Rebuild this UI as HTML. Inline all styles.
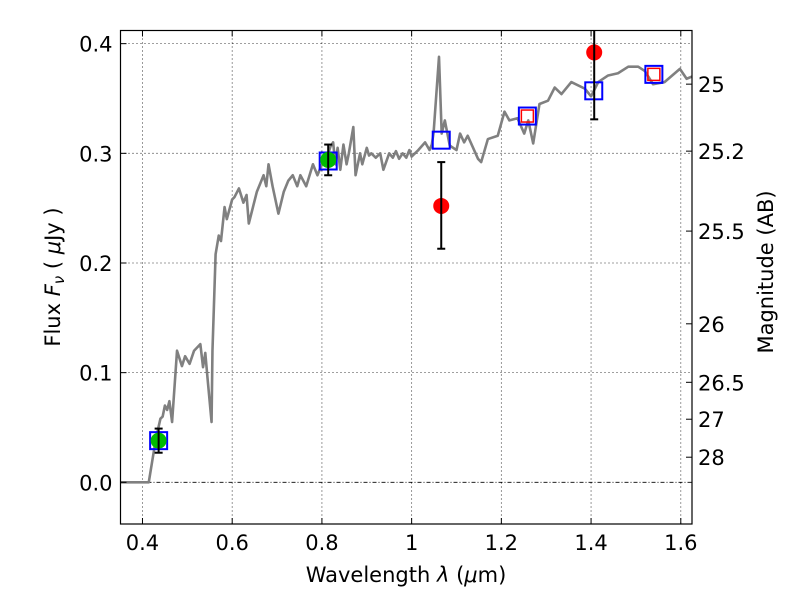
<!DOCTYPE html>
<html><head><meta charset="utf-8"><style>
html,body{margin:0;padding:0;background:#fff;}
svg{display:block;font-family:"DejaVu Sans","Liberation Sans",sans-serif;}
</style></head><body>
<svg id="chart" width="800" height="600" viewBox="0 0 800 600" xmlns="http://www.w3.org/2000/svg">
<rect width="800" height="600" fill="#fff"/>
<g id="grid"></g>
<g id="spec"></g>
<g id="marks"></g>
<rect x="120.5" y="30.5" width="571.5" height="493.5" fill="none" stroke="#000" stroke-width="1.2"/>
<g id="axes"></g>
<text x="406" y="582" font-size="21" text-anchor="middle">Wavelength  <tspan font-style="italic">λ</tspan> (<tspan font-style="italic">μ</tspan>m)</text>
<text transform="translate(60,277) rotate(-90)" font-size="21" text-anchor="middle">Flux  <tspan font-style="italic">F<tspan font-size="15" dy="4">ν</tspan></tspan><tspan dy="-4">  (  </tspan><tspan font-style="italic">μ</tspan>Jy )</text>
<text transform="translate(773,272) rotate(-90)" font-size="21" text-anchor="middle">Magnitude (AB)</text>
</svg>
<script>
const specLam=[0.35,0.414,0.43,0.44,0.445,0.45,0.455,0.46,0.466,0.477,0.488,0.495,0.505,0.515,0.529,0.535,0.54,0.545,0.554,0.556,0.563,0.57,0.575,0.583,0.588,0.6,0.605,0.615,0.625,0.632,0.637,0.655,0.67,0.676,0.681,0.69,0.703,0.715,0.725,0.735,0.745,0.752,0.765,0.78,0.79,0.8,0.81,0.819,0.825,0.83,0.835,0.841,0.848,0.855,0.86,0.87,0.875,0.885,0.89,0.9,0.905,0.91,0.92,0.93,0.937,0.95,0.958,0.965,0.972,0.98,0.988,0.995,1.0,1.015,1.03,1.04,1.045,1.049,1.061,1.067,1.074,1.085,1.1,1.108,1.117,1.125,1.148,1.155,1.17,1.192,1.207,1.218,1.236,1.251,1.26,1.271,1.285,1.304,1.319,1.334,1.356,1.386,1.4,1.416,1.438,1.46,1.483,1.505,1.52,1.538,1.564,1.598,1.613,1.625];
const specFlux=[0,0,0.04,0.058,0.06,0.07,0.066,0.074,0.055,0.12,0.106,0.115,0.108,0.12,0.126,0.105,0.118,0.095,0.055,0.12,0.208,0.225,0.22,0.251,0.24,0.258,0.26,0.268,0.255,0.262,0.236,0.265,0.28,0.27,0.29,0.27,0.245,0.265,0.275,0.28,0.27,0.28,0.27,0.29,0.28,0.29,0.295,0.306,0.31,0.29,0.305,0.285,0.308,0.29,0.3,0.324,0.28,0.3,0.29,0.305,0.298,0.3,0.296,0.3,0.285,0.3,0.296,0.302,0.295,0.3,0.296,0.303,0.297,0.303,0.31,0.303,0.308,0.319,0.388,0.318,0.33,0.307,0.303,0.318,0.31,0.316,0.295,0.292,0.313,0.316,0.338,0.33,0.332,0.318,0.33,0.309,0.345,0.348,0.36,0.354,0.365,0.359,0.352,0.365,0.371,0.373,0.379,0.379,0.375,0.363,0.365,0.377,0.368,0.37];
const greenLam=[0.436,0.814], greenFlux=[0.038,0.294], greenErr=[0.011,0.014];
const blueLam=[0.436,0.814,1.066,1.258,1.406,1.54], blueFlux=[0.038,0.293,0.312,0.334,0.357,0.372];
const redLam=[1.066,1.407], redFlux=[0.252,0.392], redErrLo=[0.039,0.061], redErrHi=[0.04,0.061];
const redSqLam=[1.258,1.54], redSqFlux=[0.334,0.372];
const xTicks=[0.4,0.6,0.8,1.0,1.2,1.4,1.6], xTickLabels=["0.4","0.6","0.8","1","1.2","1.4","1.6"];
const yTicks=[0,0.1,0.2,0.3,0.4], yTickLabels=["0.0","0.1","0.2","0.3","0.4"];
const magTicks=[25,25.2,25.5,26,26.5,27,28], magLabels=["25","25.2","25.5","26","26.5","27","28"];

const L=120.5,R=692,T=30.5,B=524;
const xmin=0.351,xmax=1.625,ymin=-0.038,ymax=0.412;
const X=v=>L+(v-xmin)/(xmax-xmin)*(R-L);
const Y=v=>B-(v-ymin)/(ymax-ymin)*(B-T);
const NS="http://www.w3.org/2000/svg";
function mk(tag,attrs,parent){const e=document.createElementNS(NS,tag);for(const k in attrs)e.setAttribute(k,attrs[k]);parent.appendChild(e);return e;}
const grid=document.getElementById('grid'),axes=document.getElementById('axes'),spec=document.getElementById('spec'),marks=document.getElementById('marks');
xTicks.forEach((t,i)=>{
  const g=mk('line',{x1:X(t),x2:X(t),y1:T,y2:B,stroke:'#000','stroke-width':0.8,'stroke-dasharray':'1,3'},grid);
  
  const a=mk('line',{x1:X(t),x2:X(t),y1:B,y2:B-6,stroke:'#000'},axes);
  
  const b=mk('line',{x1:X(t),x2:X(t),y1:T,y2:T+6,stroke:'#000'},axes);
  
  const tx=mk('text',{x:X(t),y:B+26,'font-size':21,'text-anchor':'middle'},axes);tx.textContent=xTickLabels[i];
  
});
yTicks.forEach((t,i)=>{
  const g=mk('line',{x1:L,x2:R,y1:Y(t),y2:Y(t),stroke:'#000','stroke-width':0.8,'stroke-dasharray':t===0?'4,2,1,2':'1,3'},grid);
  
  const a=mk('line',{x1:L,x2:L+6,y1:Y(t),y2:Y(t),stroke:'#000'},axes);
  
  const tx=mk('text',{x:L-8,y:Y(t)+8,'font-size':21,'text-anchor':'end'},axes);tx.textContent=yTickLabels[i];
  
});
magTicks.forEach((m,i)=>{
  const f=Math.pow(10,-0.4*(m-23.9));
  const a=mk('line',{x1:R,x2:R-6,y1:Y(f),y2:Y(f),stroke:'#000'},axes);
  
  const tx=mk('text',{x:R+6,y:Y(f)+8,'font-size':21},axes);tx.textContent=magLabels[i];
  
});
const p=mk('polyline',{points:specLam.map((l,i)=>X(l)+','+Y(specFlux[i])).join(' '),fill:'none',stroke:'#808080','stroke-width':2.6,'stroke-linejoin':'round'},spec);

function errbar(x,lo,hi){
  const y1=Math.max(Y(hi),T),y2=Y(lo);
  const l=mk('line',{x1:X(x),x2:X(x),y1:y1,y2:y2,stroke:'#000','stroke-width':2},marks);
  
  [hi,lo].forEach(v=>{if(Y(v)>=T){const c=mk('line',{x1:X(x)-4,x2:X(x)+4,y1:Y(v),y2:Y(v),stroke:'#000','stroke-width':2},marks);
    }});
}
blueLam.forEach((l,i)=>{
  const s=mk('rect',{x:X(l)-8.5,y:Y(blueFlux[i])-8.5,width:17,height:17,fill:'none',stroke:'#0000ff','stroke-width':2},marks);
  
});
redSqLam.forEach((l,i)=>{
  const s=mk('rect',{x:X(l)-6,y:Y(redSqFlux[i])-6,width:12,height:12,fill:'none',stroke:'#ff0000','stroke-width':1.5},marks);
  
});
greenLam.forEach((l,i)=>{
  const c=mk('circle',{cx:X(l),cy:Y(greenFlux[i]),r:8,fill:'#00bb00'},marks);
  
  errbar(l,greenFlux[i]-greenErr[i],greenFlux[i]+greenErr[i]);
});
redLam.forEach((l,i)=>{
  const c=mk('circle',{cx:X(l),cy:Y(redFlux[i]),r:8,fill:'#ff0000'},marks);
  
  errbar(l,redFlux[i]-redErrLo[i],redFlux[i]+redErrHi[i]);
});
</script>
</body></html>
